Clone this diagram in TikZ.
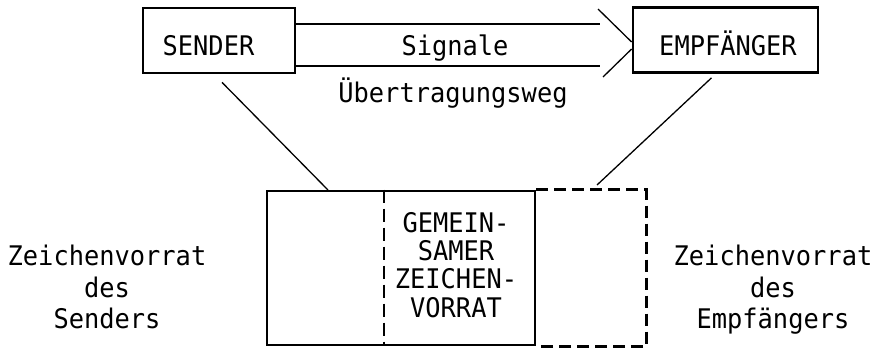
\documentclass[tikz,border=0pt]{standalone}
\usepackage{fontspec}
\newfontfamily\dinmono[FakeStretch=0.94]{DejaVu Sans Mono}
\begin{document}
\begin{tikzpicture}[x=1pt,y=-1pt,
  box/.style={draw, line width=2.7pt, inner sep=0pt},
  thinline/.style={line width=1.3pt},
  dashbox/.style={line width=2.7pt, dash pattern=on 12pt off 6pt},
  dashdiv/.style={line width=2.2pt, dash pattern=on 13pt off 6pt},
  lbl/.style={font=\dinmono\fontsize{27}{28}\selectfont, inner sep=0pt, anchor=base}]
\useasboundingbox (0,0) rectangle (887,348);
% upper boxes
\node[box, minimum width=152pt, minimum height=65pt] (sender) at (219,40.5) {};
\node[box, minimum width=185pt, minimum height=65pt] (empf) at (725.5,40) {};
\node[lbl] (tsender) at (208.5,55) {SENDER};
\node[lbl] (tempf) at (728,55) {EMPFÄNGER};
% transmission path
\coordinate (s1) at (600,24);
\coordinate (s2) at (600,66);
\draw[thinline] (sender.east |- s1) -- (s1);
\draw[thinline] (sender.east |- s2) -- (s2);
\coordinate (a1) at (598,9);
\coordinate (a2) at (603,77);
\draw[thinline] (a1) -- ([yshift=-2pt]empf.west);
\draw[thinline] (a2) -- ([yshift=-9pt]empf.west);
\node[lbl] (tsig) at (455,55) {Signale};
\node[lbl] (tweg) at (453,102) {Übertragungsweg};
% sets of signs
\node[box, minimum width=268pt, minimum height=154pt] (known) at (401,268) {};
\draw[dashbox] (known.north east) -- ++(110,0) |- (known.south east);
\draw[dashdiv] ([xshift=118pt]known.north west) -- ([xshift=118pt]known.south west);
\coordinate (sl) at (328,190);
\coordinate (el) at (597,185);
\draw[thinline] ([shift={(3pt,-8pt)}]sender.south) -- (sl);
\draw[thinline] ([shift={(-14pt,-4pt)}]empf.south) -- (el);
\node[lbl] (g1) at (456,232) {GEMEIN-};
\node[lbl] (g2) at (456,260) {SAMER};
\node[lbl] (g3) at (456,288) {ZEICHEN-};
\node[lbl] (g4) at (456,317) {VORRAT};
\node[lbl] (l1) at (107,265) {Zeichenvorrat};
\node[lbl] (l2) at (107,297) {des};
\node[lbl] (l3) at (107,328) {Senders};
\node[lbl] (r1) at (773,265) {Zeichenvorrat};
\node[lbl] (r2) at (773,297) {des};
\node[lbl] (r3) at (773,328) {Empfängers};
\end{tikzpicture}
\end{document}
